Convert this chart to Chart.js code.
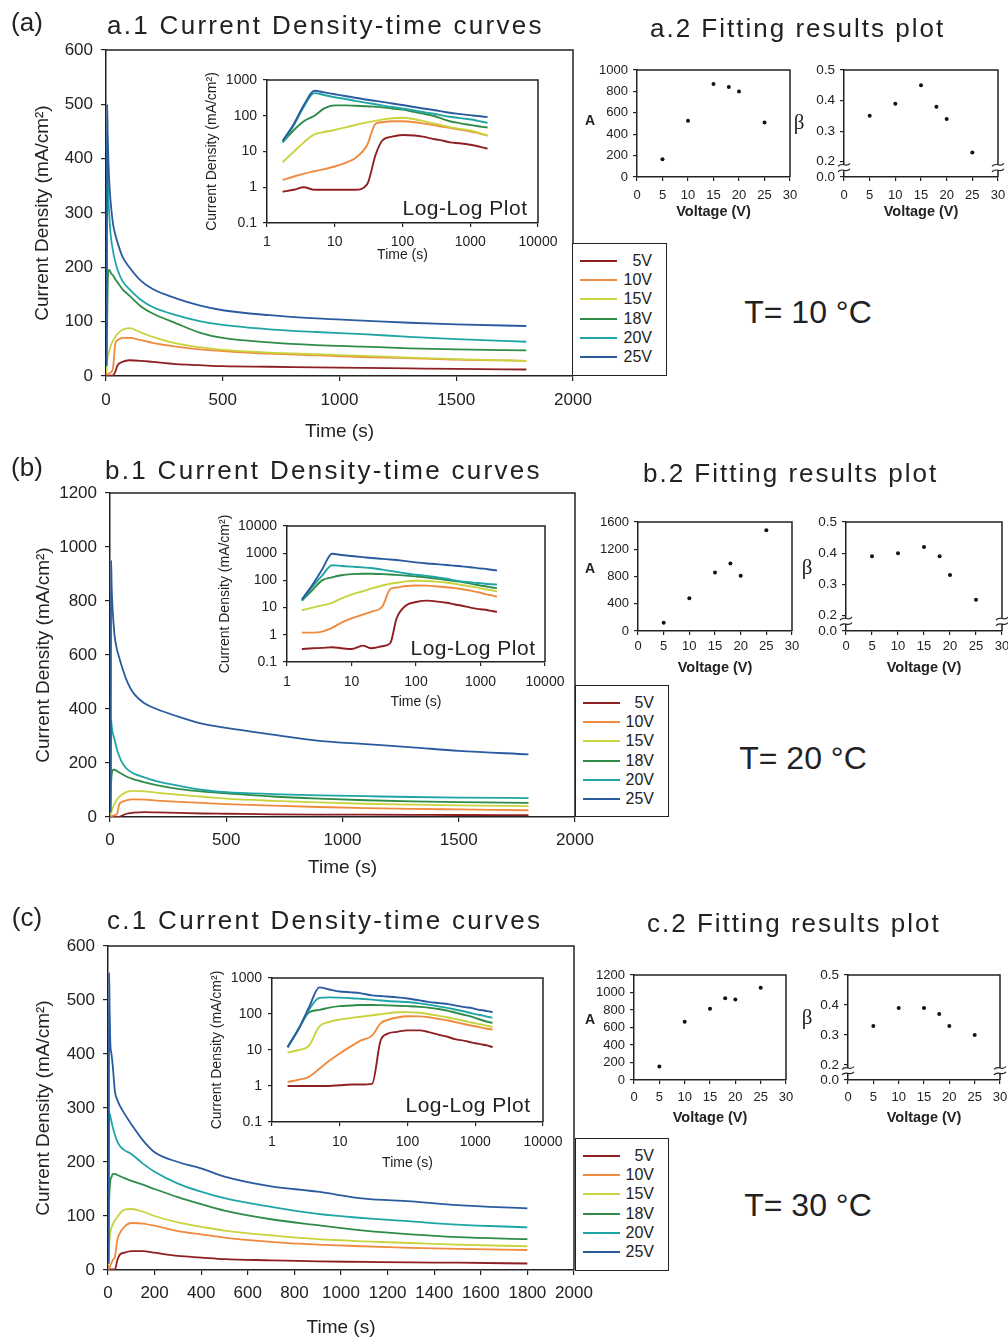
<!DOCTYPE html>
<html>
<head>
<meta charset="utf-8">
<script src="https://cdn.jsdelivr.net/npm/chart.js@4.4.1/dist/chart.umd.min.js"></script>
<style>
  body { margin: 0; background: #fff; }
  #page { position: relative; width: 1008px; height: 1341px; overflow: hidden; font-family: "Liberation Sans", Arial, sans-serif; color: #222; }
  #page canvas { position: absolute; }
  .txt { position: absolute; white-space: nowrap; }
  .legend { position: absolute; box-sizing: border-box; border: 1.5px solid #222; background: #fff; }
</style>
</head>
<body>
<div id="page"></div>
<script>
// ---- data ----
const voltages = [5, 10, 15, 18, 20, 25];
const seriesLabels = ["5V", "10V", "15V", "18V", "20V", "25V"];
const seriesColors = ["#8e1f22", "#f08a3e", "#c9d33d", "#2f8c48", "#1fa5a6", "#2a5b9f"];

// sample times (s), shared by every curve
const timeS = [1.7, 2.5, 3.5, 5, 7, 10, 15, 20, 30, 40, 50, 70, 100, 150, 200, 300, 400, 500, 700, 900, 1100, 1300, 1500, 1800];

// T = 10 C
const a5V  = [0.75, 0.85, 1.0, 0.85, 0.85, 0.85, 0.85, 0.85, 1.2, 8, 20, 26, 29, 28, 26, 22, 20, 18, 17, 16, 15, 14, 13, 12];
const a10V = [1.6, 2, 2.4, 2.8, 3.2, 3.8, 5, 6.5, 15, 60, 66, 70, 70, 66, 61, 54, 49, 46, 41, 38, 35, 33, 30, 28];
const a15V = [5, 10, 18, 30, 35, 40, 48, 55, 65, 72, 78, 85, 88, 80, 72, 60, 53, 48, 43, 40, 37, 34, 31, 28];
const a18V = [18, 40, 70, 100, 160, 195, 195, 190, 185, 178, 172, 160, 148, 128, 115, 97, 80, 70, 62, 57, 54, 51, 49, 47];
const a20V = [18, 55, 180, 430, 380, 330, 290, 260, 230, 210, 195, 175, 160, 140, 127, 112, 101, 94, 86, 81, 77, 72, 68, 63];
const a25V = [20, 60, 200, 500, 450, 400, 350, 320, 280, 260, 245, 220, 200, 175, 160, 143, 130, 121, 112, 106, 102, 98, 95, 92];

// T = 20 C
const b5V  = [0.3, 0.32, 0.33, 0.35, 0.32, 0.3, 0.4, 0.32, 0.38, 0.5, 4, 12, 16, 18, 17, 15, 13, 12, 10, 9, 8.5, 8, 7.5, 7];
const b10V = [1.2, 1.2, 1.3, 1.8, 2.8, 4, 5.5, 7, 11, 48, 55, 62, 65, 64, 61, 56, 52, 48, 42, 37, 33, 30, 28, 25];
const b15V = [8, 10, 12, 15, 22, 30, 40, 50, 65, 75, 82, 92, 97, 95, 90, 82, 75, 68, 60, 54, 49, 46, 43, 40];
const b18V = [18, 45, 100, 130, 155, 170, 175, 175, 170, 165, 160, 150, 140, 128, 118, 103, 94, 88, 76, 68, 62, 58, 55, 52];
const b20V = [18, 60, 150, 360, 340, 320, 300, 285, 250, 225, 205, 180, 162, 146, 133, 115, 100, 92, 85, 80, 77, 74, 72, 70];
const b25V = [20, 70, 250, 950, 860, 790, 720, 670, 620, 590, 560, 510, 460, 420, 400, 370, 345, 330, 305, 282, 270, 258, 245, 232];

// T = 30 C
const c5V  = [1.0, 1.0, 1.0, 1.0, 1.0, 1.05, 1.1, 1.1, 1.15, 18, 28, 32, 35, 35, 32, 26, 23, 20, 18, 16, 15, 14, 13.5, 12];
const c10V = [1.3, 1.5, 1.8, 3, 5, 8, 13, 18, 25, 55, 68, 80, 87, 86, 82, 72, 66, 60, 52, 47, 44, 41, 39, 37];
const c15V = [8.5, 10, 13, 45, 60, 70, 78, 84, 92, 98, 104, 112, 113, 108, 100, 88, 80, 73, 64, 57, 53, 50, 47, 44];
const c18V = [12, 40, 110, 130, 150, 165, 172, 178, 178, 176, 174, 170, 165, 158, 150, 135, 122, 110, 94, 83, 73, 66, 61, 57];
const c20V = [12, 40, 130, 280, 290, 285, 275, 265, 250, 238, 230, 222, 215, 197, 182, 160, 145, 133, 117, 104, 96, 90, 84, 79];
const c25V = [12, 40, 150, 550, 480, 420, 400, 380, 330, 315, 305, 290, 270, 240, 218, 200, 188, 173, 155, 145, 132, 127, 120, 114];

// fitting results (A and beta against voltage)
const fitA_a = [165, 525, 870, 840, 800, 510];
const fitBeta_a = [0.35, 0.39, 0.45, 0.38, 0.34, 0.23];
const fitA_b = [120, 480, 860, 990, 810, 1480];
const fitBeta_b = [0.39, 0.40, 0.42, 0.39, 0.33, 0.25];
const fitA_c = [155, 665, 815, 935, 920, 1055];
const fitBeta_c = [0.33, 0.39, 0.39, 0.37, 0.33, 0.30];

// tick labels
const mainXTicksAB = [0, 500, 1000, 1500, 2000];
const mainXTicksC = [0, 200, 400, 600, 800, 1000, 1200, 1400, 1600, 1800, 2000];
const mainYTicksAC = [0, 100, 200, 300, 400, 500, 600];
const mainYTicksB = [0, 200, 400, 600, 800, 1000, 1200];
const insetXTicks = [1, 10, 100, 1000, 10000];
const insetYTicksAC = [0.1, 1, 10, 100, 1000];
const insetYTicksB = [0.1, 1, 10, 100, 1000, 10000];
const fitXTicks = [0, 5, 10, 15, 20, 25, 30];
const fitATicks_a = [0, 200, 400, 600, 800, 1000];
const fitATicks_b = [0, 400, 800, 1200, 1600];
const fitATicks_c = [0, 200, 400, 600, 800, 1000, 1200];
const betaTicks = [0.0, 0.2, 0.3, 0.4, 0.5];

// ---- drawing ----
const INK = "#222";
const FONT = '"Liberation Sans", Arial, sans-serif';
const BETA_FLOOR = 0.15;   // where the broken beta axis puts its 0.0 label
const page = document.getElementById("page");

const rows = [
  { curves: [a5V, a10V, a15V, a18V, a20V, a25V], A: fitA_a, beta: fitBeta_a,
    mainXTicks: mainXTicksAB, mainYTicks: mainYTicksAC, insetYTicks: insetYTicksAC, fitATicks: fitATicks_a,
    main: {l: 106, t: 50, r: 573, b: 376}, mainXLabelY: 400, mainXTitleY: 432, mainYTitleX: 43,
    inset: {l: 267, t: 80, r: 538, b: 223}, insetXLabelY: 242, insetXTitleY: 255, insetYTitleX: 212, logLog: [465, 208],
    legend: {l: 572, t: 243, r: 667, b: 376},
    pA: {l: 637, t: 70, r: 790, b: 177}, pB: {l: 844, t: 70, r: 998, b: 177}, fitXLabelY: 195, fitXTitleY: 212,
    panel: ["(a)", 22], title1: ["a.1 Current Density-time curves", 107, 25], title2: ["a.2 Fitting results plot", 650, 28],
    temp: ["T= 10 °C", 808, 312], aLab: [590, 120], bLab: [799, 122] },
  { curves: [b5V, b10V, b15V, b18V, b20V, b25V], A: fitA_b, beta: fitBeta_b,
    mainXTicks: mainXTicksAB, mainYTicks: mainYTicksB, insetYTicks: insetYTicksB, fitATicks: fitATicks_b,
    main: {l: 110, t: 493, r: 575, b: 817}, mainXLabelY: 840, mainXTitleY: 868, mainYTitleX: 44,
    inset: {l: 287, t: 526, r: 545, b: 662}, insetXLabelY: 682, insetXTitleY: 702, insetYTitleX: 225, logLog: [473, 648],
    legend: {l: 575, t: 685, r: 669, b: 817},
    pA: {l: 638, t: 522, r: 792, b: 631}, pB: {l: 846, t: 522, r: 1002, b: 631}, fitXLabelY: 646, fitXTitleY: 668,
    panel: ["(b)", 467], title1: ["b.1 Current Density-time curves", 105, 470], title2: ["b.2 Fitting results plot", 643, 473],
    temp: ["T= 20 °C", 803, 758], aLab: [590, 568], bLab: [807, 567] },
  { curves: [c5V, c10V, c15V, c18V, c20V, c25V], A: fitA_c, beta: fitBeta_c,
    mainXTicks: mainXTicksC, mainYTicks: mainYTicksAC, insetYTicks: insetYTicksAC, fitATicks: fitATicks_c,
    main: {l: 108, t: 946, r: 574, b: 1270}, mainXLabelY: 1293, mainXTitleY: 1328, mainYTitleX: 44,
    inset: {l: 272, t: 978, r: 543, b: 1122}, insetXLabelY: 1142, insetXTitleY: 1163, insetYTitleX: 217, logLog: [468, 1105],
    legend: {l: 575, t: 1138, r: 669, b: 1271},
    pA: {l: 634, t: 975, r: 786, b: 1080}, pB: {l: 848, t: 975, r: 1000, b: 1080}, fitXLabelY: 1097, fitXTitleY: 1118,
    panel: ["(c)", 917], title1: ["c.1 Current Density-time curves", 107, 920], title2: ["c.2 Fitting results plot", 647, 923],
    temp: ["T= 30 °C", 808, 1205], aLab: [590, 1019], bLab: [807, 1017] }
];

// top and right edges of the plot box, optional white fill behind the data
const framePlugin = {
  id: "frame",
  beforeDraw(chart, args, opts) {
    if (!opts.fill) return;
    const a = chart.chartArea;
    chart.ctx.save();
    chart.ctx.fillStyle = "#fff";
    chart.ctx.fillRect(a.left, a.top, a.right - a.left, a.bottom - a.top);
    chart.ctx.restore();
  },
  afterDraw(chart) {
    const {ctx, chartArea: a} = chart;
    ctx.save();
    ctx.strokeStyle = INK;
    ctx.lineWidth = 1.5;
    ctx.beginPath();
    ctx.moveTo(a.left, a.top);
    ctx.lineTo(a.right, a.top);
    ctx.lineTo(a.right, a.bottom);
    ctx.stroke();
    ctx.restore();
  }
};

// little break marks on the beta axis between 0.2 and 0.0
const breakPlugin = {
  id: "axisBreak",
  afterDraw(chart, args, opts) {
    if (!opts.on) return;
    const {ctx, chartArea: a, scales: {y}} = chart;
    const y1 = y.getPixelForValue(0.19), y2 = y.getPixelForValue(0.172);
    ctx.save();
    [a.left, a.right].forEach(x => {
      ctx.fillStyle = "#fff";
      ctx.fillRect(x - 2, y1, 4, y2 - y1);
      ctx.strokeStyle = INK;
      ctx.lineWidth = 1.2;
      [y1, y2].forEach(yy => {
        ctx.beginPath();
        ctx.moveTo(x - 6, yy + 1.5);
        ctx.bezierCurveTo(x - 2, yy - 3.5, x + 2, yy + 3.5, x + 6, yy - 1.5);
        ctx.stroke();
      });
    });
    ctx.restore();
  }
};

function makeCanvas(plot, pad) {
  const c = document.createElement("canvas");
  const w = plot.r - plot.l + pad.l + pad.r;
  const h = plot.b - plot.t + pad.t + pad.b;
  c.width = w;
  c.height = h;
  Object.assign(c.style, {left: (plot.l - pad.l) + "px", top: (plot.t - pad.t) + "px", width: w + "px", height: h + "px"});
  page.appendChild(c);
  return c;
}

function axisOpts(o) {
  return {
    type: o.type || "linear",
    min: o.min, max: o.max,
    afterBuildTicks: s => { s.ticks = o.ticks.map(v => ({value: o.pos ? o.pos(v) : v})); },
    afterFit: s => {
      if (o.horizontal) s.height = o.size; else s.width = o.size;
      s.paddingLeft = s.paddingRight = s.paddingTop = s.paddingBottom = 0;
    },
    grid: {drawOnChartArea: false, drawTicks: true, tickLength: o.tickLen, color: INK, tickColor: INK, lineWidth: 1.2},
    border: {display: true, color: INK, width: 1.5},
    ticks: {autoSkip: false, maxRotation: 0, minRotation: 0, padding: o.tickPad, color: INK,
      font: {family: FONT, size: o.font},
      callback: (v, i) => o.labels ? o.labels[i] : String(v)},
    title: o.title ? {display: true, text: o.title, color: INK,
      font: {family: FONT, size: o.titleSize, weight: o.bold ? "bold" : "normal"},
      padding: {top: o.titlePad, bottom: o.titlePad}} : {display: false}
  };
}

function baseOptions(pad, scales, pluginOpts) {
  return {
    responsive: false, animation: false, devicePixelRatio: 1,
    layout: {padding: {top: pad.t, right: pad.r, left: 0, bottom: 0}},
    plugins: Object.assign({legend: {display: false}, tooltip: {enabled: false}}, pluginOpts),
    scales
  };
}

function curveSets(row, width) {
  return row.curves.map((vals, i) => ({
    label: seriesLabels[i],
    data: timeS.map((t, k) => ({x: t, y: vals[k]})),
    borderColor: seriesColors[i], borderWidth: width,
    pointRadius: 0, cubicInterpolationMode: "monotone", fill: false
  })).reverse();
}

function mainChart(row) {
  const p = row.main;
  const pad = {l: p.l, t: 15, r: 30, b: 68};
  const fs = 17, ts = 19;
  new Chart(makeCanvas(p, pad), {
    type: "line",
    data: {datasets: curveSets(row, 1.8)},
    options: baseOptions(pad, {
      x: axisOpts({horizontal: true, min: 0, max: 2000, ticks: row.mainXTicks, size: pad.b, tickLen: 5,
        tickPad: row.mainXLabelY - p.b - 5 - 0.6 * fs, font: fs,
        title: "Time (s)", titleSize: ts, titlePad: p.b + pad.b - row.mainXTitleY - 0.6 * ts}),
      y: axisOpts({min: 0, max: row.mainYTicks[row.mainYTicks.length - 1], ticks: row.mainYTicks, size: pad.l, tickLen: 5,
        tickPad: 8, font: fs,
        title: "Current Density (mA/cm²)", titleSize: ts, titlePad: row.mainYTitleX - 0.6 * ts})
    }, {frame: {}}),
    plugins: [framePlugin]
  });
}

function insetChart(row) {
  const p = row.inset;
  const pad = {l: p.l - row.insetYTitleX + 12, t: 12, r: 24, b: row.insetXTitleY + 10 - p.b};
  const fs = 14;
  new Chart(makeCanvas(p, pad), {
    type: "line",
    data: {datasets: curveSets(row, 1.9)},
    options: baseOptions(pad, {
      x: axisOpts({type: "logarithmic", horizontal: true, min: 1, max: 10000, ticks: insetXTicks, size: pad.b, tickLen: 4,
        tickPad: row.insetXLabelY - p.b - 4 - 0.6 * fs, font: fs,
        title: "Time (s)", titleSize: fs, titlePad: p.b + pad.b - row.insetXTitleY - 0.6 * fs}),
      y: axisOpts({type: "logarithmic", min: 0.1, max: row.insetYTicks[row.insetYTicks.length - 1], ticks: row.insetYTicks,
        size: pad.l, tickLen: 4, tickPad: 6, font: fs,
        title: "Current Density (mA/cm²)", titleSize: fs, titlePad: row.insetYTitleX - (p.l - pad.l) - 0.6 * fs})
    }, {frame: {fill: true}}),
    plugins: [framePlugin]
  });
}

function fitChart(row, plot, values, isBeta) {
  const pad = {l: 42, t: 10, r: 10, b: row.fitXTitleY + 12 - plot.b};
  const fs = 13, ts = 14.5;
  const yAxis = isBeta
    ? axisOpts({min: BETA_FLOOR, max: 0.5, ticks: betaTicks, pos: v => (v === 0 ? BETA_FLOOR : v),
        labels: betaTicks.map(v => v.toFixed(1)), size: pad.l, tickLen: 4, tickPad: 5, font: 13.5})
    : axisOpts({min: 0, max: row.fitATicks[row.fitATicks.length - 1], ticks: row.fitATicks,
        size: pad.l, tickLen: 4, tickPad: 5, font: fs});
  new Chart(makeCanvas(plot, pad), {
    type: "scatter",
    data: {datasets: [{data: voltages.map((v, i) => ({x: v, y: values[i]})),
      pointRadius: 2, backgroundColor: "#111", borderWidth: 0}]},
    options: baseOptions(pad, {
      x: axisOpts({horizontal: true, min: 0, max: 30, ticks: fitXTicks, size: pad.b, tickLen: 4,
        tickPad: row.fitXLabelY - plot.b - 4 - 0.6 * fs, font: fs,
        title: "Voltage (V)", titleSize: ts, bold: true, titlePad: plot.b + pad.b - row.fitXTitleY - 0.6 * ts}),
      y: yAxis
    }, {frame: {}, axisBreak: {on: isBeta}}),
    plugins: [framePlugin, breakPlugin]
  });
}

function addText(str, x, y, size, o = {}) {
  const d = document.createElement("div");
  d.className = "txt";
  d.textContent = str;
  d.style.left = x + "px";
  d.style.top = y + "px";
  d.style.fontSize = size + "px";
  d.style.transform = o.center ? "translate(-50%, -50%)" : "translate(0, -50%)";
  if (o.bold) d.style.fontWeight = "bold";
  if (o.spacing) d.style.letterSpacing = o.spacing + "px";
  if (o.family) d.style.fontFamily = o.family;
  page.appendChild(d);
}

function legendBox(box) {
  const d = document.createElement("div");
  d.className = "legend";
  Object.assign(d.style, {left: box.l + "px", top: box.t + "px", width: (box.r - box.l) + "px", height: (box.b - box.t) + "px"});
  seriesLabels.forEach((lab, i) => {
    const y = 17 + i * 19.2;
    const ln = document.createElement("div");
    Object.assign(ln.style, {position: "absolute", left: "7px", top: (y - 1) + "px", width: "37px", height: "2px", background: seriesColors[i]});
    const tx = document.createElement("div");
    tx.textContent = lab;
    Object.assign(tx.style, {position: "absolute", right: "14px", top: y + "px", transform: "translateY(-50%)", fontSize: "16px", lineHeight: "16px"});
    d.appendChild(ln);
    d.appendChild(tx);
  });
  page.appendChild(d);
}

rows.forEach(row => {
  mainChart(row);
  insetChart(row);
  legendBox(row.legend);
  fitChart(row, row.pA, row.A, false);
  fitChart(row, row.pB, row.beta, true);

  addText(row.panel[0], 27, row.panel[1], 26, {center: true});
  addText(row.title1[0], row.title1[1], row.title1[2], 26, {spacing: 2.3});
  addText(row.title2[0], row.title2[1], row.title2[2], 26, {spacing: 2});
  addText(row.temp[0], row.temp[1], row.temp[2], 32, {center: true});
  addText("Log-Log Plot", row.logLog[0], row.logLog[1], 21, {center: true, spacing: 0.5});
  addText("A", row.aLab[0], row.aLab[1], 14, {center: true, bold: true});
  addText("β", row.bLab[0], row.bLab[1], 21, {center: true, family: '"Liberation Serif", "DejaVu Serif", serif'});
});
</script>
</body>
</html>
